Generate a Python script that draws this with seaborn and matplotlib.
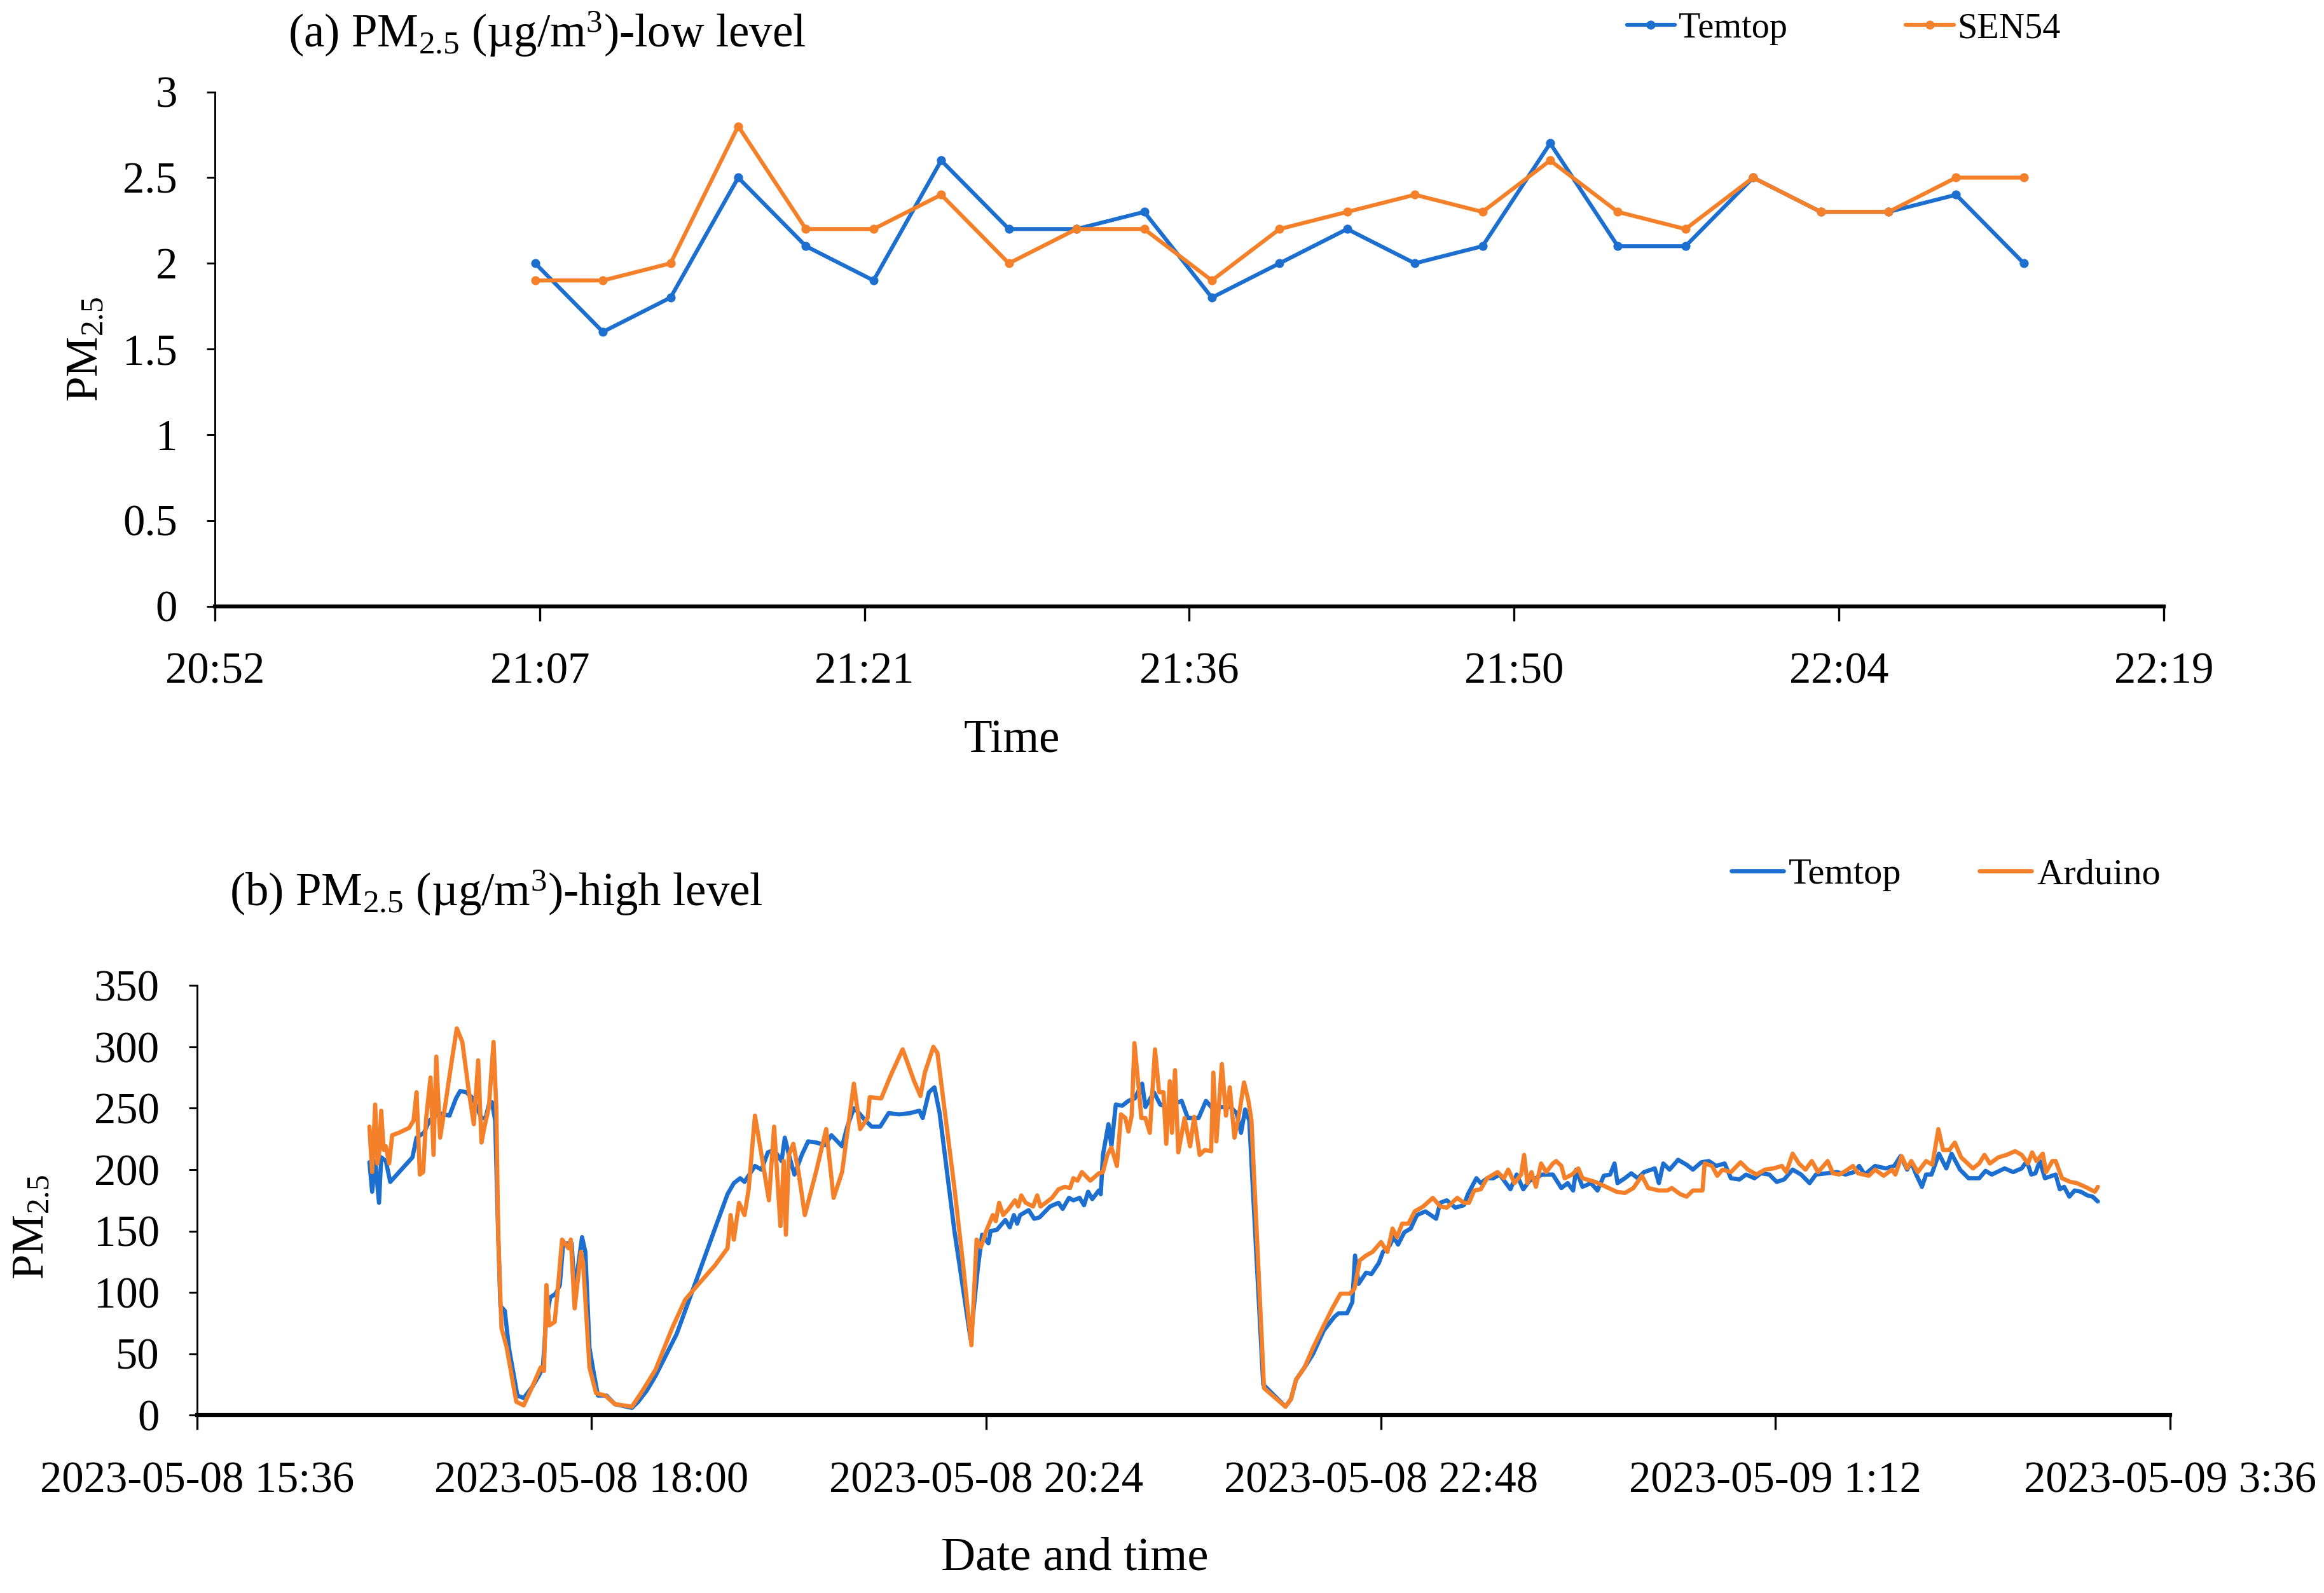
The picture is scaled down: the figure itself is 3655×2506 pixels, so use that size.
import matplotlib
matplotlib.use("Agg")
import matplotlib.pyplot as plt
import matplotlib.dates as mdates
from matplotlib.ticker import FuncFormatter
import seaborn as sns
import pandas as pd
from datetime import timedelta

# ---------------- (a) low level data ----------------
low_times = ["21:07", "21:10", "21:13", "21:16", "21:19", "21:22", "21:25", "21:28",
             "21:31", "21:34", "21:37", "21:40", "21:43", "21:46", "21:49", "21:52",
             "21:55", "21:58", "22:01", "22:04", "22:07", "22:10", "22:13"]
low_temtop = [2.0, 1.6, 1.8, 2.5, 2.1, 1.9, 2.6, 2.2, 2.2, 2.3, 1.8, 2.0,
              2.2, 2.0, 2.1, 2.7, 2.1, 2.1, 2.5, 2.3, 2.3, 2.4, 2.0]
low_sen54 = [1.9, 1.9, 2.0, 2.8, 2.2, 2.2, 2.4, 2.0, 2.2, 2.2, 1.9, 2.2,
             2.3, 2.4, 2.3, 2.6, 2.3, 2.2, 2.5, 2.3, 2.3, 2.5, 2.5]
low_xticks = ["20:52:48", "21:07:12", "21:21:36", "21:36:00", "21:50:24", "22:04:48", "22:19:12"]

# ---------------- (b) high level data (minutes after 2023-05-08 15:36) ----------------
hi_temtop_min = [
    62.9, 63.9, 65.0, 66.4, 67.2, 68.9, 70.5, 78.6, 80.1, 82.8, 84.8, 88.3, 92.1, 94.5, 96.0,
    98.3, 100.7, 103.8, 105.3, 106.5, 107.6, 108.8, 109.9, 110.7, 112.3, 113.8, 116.9, 119.2,
    122.3, 124.7, 126.2, 127.4, 128.9, 130.9, 132.4, 133.6, 135.5, 136.7, 137.8, 140.5, 141.7,
    143.2, 144.8, 146.3, 149.4, 152.5, 158.7, 161.0, 164.1, 167.3,
    175.0, 182.7, 189.0, 193.6, 195.9, 198.2, 199.8, 203.6, 206.0, 208.3, 210.6, 213.3, 214.5,
    216.0, 218.0, 220.7, 223.0, 226.1, 229.2, 231.5, 235.4, 237.3, 239.7, 241.6, 243.9, 246.2,
    249.3, 252.4, 256.3, 260.2, 263.6, 264.8, 267.1, 269.1, 271.0, 276.4,
    282.3, 284.9, 286.5, 288.8, 289.6, 291.9, 295.0, 296.6, 298.1, 299.3, 300.4, 303.5, 305.5,
    307.4, 311.3, 314.4, 315.9, 318.2, 319.8, 322.1, 323.7, 325.2, 326.7, 329.1, 329.8, 330.6,
    332.6, 333.7, 335.3, 337.6, 339.9, 342.2, 344.9, 346.1, 349.2, 351.5, 353.8, 356.2, 359.3,
    361.6, 365.5, 368.2, 370.9, 374.0, 377.1, 379.4, 381.0, 382.5, 384.0, 389.1,
    397.2, 399.2, 401.1, 404.2, 407.3, 411.2, 415.0, 416.6, 419.7, 421.6, 422.6, 423.9, 426.6,
    428.6, 431.3, 432.8, 435.2, 436.7, 438.3, 440.6, 442.9, 445.2, 448.3, 452.2, 453.7, 456.1,
    459.2, 462.3, 463.8, 466.9, 468.5, 470.8, 473.1, 475.4, 479.3, 481.6, 484.0, 486.3, 488.6,
    490.9, 494.8,
    497.9, 500.2, 502.2, 503.3, 505.6, 508.7, 511.1, 513.4, 515.7, 517.3, 518.4, 521.1, 523.4,
    525.8, 528.1, 532.0, 533.5, 535.1, 537.4, 540.5, 543.6, 545.9, 549.0, 551.7, 554.4, 557.5,
    559.8, 562.9, 565.3, 568.4, 570.7, 573.8, 576.5, 579.2, 582.3, 585.4, 588.5, 590.8, 594.7,
    598.6, 601.6,
    604.7, 606.6, 608.6, 612.4, 616.3, 619.4, 621.7, 624.1, 625.6, 627.2, 629.5, 631.0, 633.0,
    635.7, 638.4, 640.3, 643.4, 646.5, 650.4, 652.7, 655.0, 659.7, 662.8, 665.9, 667.8, 669.4,
    670.9, 672.5, 674.4, 678.3, 679.8, 681.4, 683.3, 685.2, 687.5, 689.9, 691.8, 693.7]
hi_temtop_val = [
    206, 182, 207, 173, 210, 207, 190, 210, 226, 230, 240, 246, 244, 258, 264,
    263, 258, 242, 242, 253, 255, 240, 147, 89, 85, 55, 16, 14,
    23, 32, 39, 78, 96, 99, 106, 140, 140, 140, 101, 145, 133,
    55, 34, 16, 16, 9, 6, 11, 20, 32,
    66, 113, 152, 180, 189, 193, 190, 203, 200, 214, 216, 207, 226,
    212, 196, 212, 223, 222, 220, 228, 219, 235, 250, 246, 240, 235,
    235, 246, 245, 246, 248, 242, 263, 267, 246, 150,
    62, 119, 147, 140, 150, 151, 159, 153, 163, 156, 163, 167, 160,
    161, 170, 173, 168, 177, 175, 177, 171, 182, 176, 183, 180, 212,
    237, 219, 253, 252, 256, 258, 270, 251, 263, 253, 251, 253, 256,
    242, 242, 256, 249, 251, 251, 246, 230, 249, 240, 25,
    7, 13, 29, 39, 50, 69, 80, 83, 83, 92, 130, 107, 116,
    115, 124, 133, 138, 145, 139, 149, 152, 163, 166, 160, 173, 175,
    169, 171, 180, 193, 189, 193, 193, 196, 184, 196, 184, 191, 193,
    196, 196,
    185, 189, 183, 200, 186, 189, 183, 195, 196, 205, 189, 193, 197,
    193, 198, 201, 189, 205, 200, 208, 204, 200, 206, 207, 203, 205,
    193, 192, 196, 193, 197, 196, 190, 192, 200, 196, 189, 196, 197,
    198, 196,
    198, 203, 196, 203, 201, 203, 211, 200, 206, 197, 186, 196, 196,
    213, 201, 213, 200, 193, 193, 199, 196, 201, 198, 201, 207, 196,
    197, 207, 193, 196, 184, 186, 178, 183, 182, 179, 178, 174]

hi_arduino_min = [
    62.9, 63.9, 65.0, 65.8, 66.4, 67.2, 68.1, 68.9, 70.1, 71.2, 73.6, 77.4, 79.0, 80.1, 81.3,
    82.5, 83.6, 85.2, 86.3, 87.3, 88.7, 90.6, 92.9, 94.8, 96.8, 99.1, 101.0, 102.6, 103.8,
    104.9, 106.5, 108.2, 109.2, 109.9, 111.1, 113.0, 116.5, 119.2, 122.3, 125.4, 126.6, 127.5,
    128.5, 130.5, 131.6, 133.2, 134.3, 135.5, 136.4, 137.8, 140.1, 140.9, 143.2, 145.6, 149.0,
    152.5, 158.7, 162.6, 167.3,
    173.4, 178.1, 182.7, 189.0, 193.6, 194.7, 195.9, 197.8, 199.8, 201.3, 203.6, 206.0, 208.7,
    210.6, 212.9, 214.1, 214.9, 216.0, 217.6, 219.5, 221.8, 226.1, 229.6, 232.3, 235.4, 239.7,
    242.0, 244.7, 245.5, 249.7, 253.2, 257.5, 261.7, 264.0, 265.6, 268.7, 270.2, 276.4,
    279.5, 282.6, 284.5, 286.1, 288.0, 290.4, 291.5, 292.7, 294.2, 296.2, 298.5, 299.7, 300.8,
    302.4, 305.1, 306.6, 307.8, 309.7, 312.0, 314.4, 316.7, 318.6, 319.8, 321.3, 322.9, 326.0,
    329.1, 330.6, 332.2, 333.7, 335.7, 337.2, 338.8, 339.9, 341.1, 342.1, 343.8, 344.6, 346.1,
    347.7, 349.6, 351.1, 352.7, 353.7, 355.0, 355.8, 356.9, 358.1, 360.4, 362.4, 363.9, 365.9,
    367.8, 370.1, 370.9, 372.0, 374.0, 375.5, 376.9, 378.6, 380.2, 382.1, 383.7, 384.8, 389.4,
    397.2, 399.2, 401.1, 404.2, 407.3, 411.2, 414.3, 417.3, 420.8, 422.4, 424.3, 426.6, 429.0,
    432.1, 434.4, 436.3, 437.9, 439.8, 442.1, 444.4, 447.5, 451.0, 453.7, 456.1, 459.9, 462.3,
    464.2, 466.1, 468.5, 470.8, 474.6, 476.9, 478.5, 480.8, 483.2, 484.3, 485.5, 487.0, 488.6,
    490.5, 492.4, 494.8,
    496.0, 497.9, 499.1, 501.8, 504.1, 505.6, 510.3, 514.2, 518.0, 521.1, 524.2, 527.3, 529.6,
    533.5, 536.6, 538.2, 541.3, 543.6, 545.9, 549.4, 550.2, 552.9, 554.8, 556.7, 559.8, 563.3,
    566.0, 569.1, 572.2, 575.3, 578.4, 580.0, 582.3, 584.6, 587.0, 589.3, 591.6, 595.1, 597.0,
    599.3, 601.7,
    604.3, 606.2, 610.1, 612.4, 615.5, 618.6, 619.8, 622.1, 624.1, 625.6, 628.0, 631.0, 633.3,
    635.5, 637.2, 639.5, 641.5, 643.8, 648.1, 650.4, 652.3, 654.3, 657.4, 660.4, 663.5, 665.9,
    668.2, 669.7, 671.3, 673.6, 674.8, 677.1, 678.3, 680.6, 683.7, 686.0, 689.1, 692.6, 693.7]
hi_arduino_val = [
    235, 198, 253, 205, 212, 248, 216, 219, 205, 228, 230, 234, 240, 263, 196,
    198, 242, 275, 212, 292, 226, 253, 288, 315, 304, 265, 237, 289, 222,
    235, 251, 304, 251, 147, 71, 55, 11, 8, 23, 39, 36, 106,
    73, 76, 101, 143, 140, 136, 143, 87, 133, 124, 39, 18, 16,
    9, 7, 20, 37,
    71, 94, 106, 122, 136, 163, 143, 173, 163, 184, 244, 212, 175,
    235, 154, 207, 147, 212, 221, 198, 163, 200, 233, 177, 198, 270,
    233, 242, 259, 258, 277, 298, 272, 260, 279, 300, 295, 185,
    124, 57, 143, 137, 150, 163, 158, 173, 163, 168, 175, 170, 179,
    173, 170, 179, 170, 173, 177, 184, 186, 185, 193, 191, 198, 191,
    197, 198, 212, 218, 203, 245, 242, 231, 244, 303, 263, 242, 242,
    230, 298, 263, 263, 221, 272, 230, 281, 214, 242, 219, 243, 212,
    216, 215, 279, 223, 286, 244, 267, 226, 244, 271, 256, 240, 22,
    7, 13, 29, 39, 55, 73, 87, 99, 99, 103, 126, 130, 133,
    141, 133, 152, 145, 156, 156, 166, 170, 177, 170, 169, 177, 173,
    173, 183, 184, 193, 198, 193, 200, 189, 196, 212, 189, 198, 186,
    205, 198, 205,
    207, 203, 193, 196, 201, 193, 190, 186, 182, 181, 185, 195, 185,
    183, 183, 185, 180, 178, 183, 183, 205, 203, 195, 200, 198, 206,
    200, 196, 200, 201, 203, 198, 213, 205, 200, 207, 198, 207, 197,
    196, 199,
    203, 197, 195, 200, 195, 200, 196, 211, 201, 207, 198, 207, 204,
    233, 216, 216, 222, 210, 201, 205, 212, 205, 210, 212, 215, 212,
    205, 214, 207, 213, 198, 207, 207, 193, 190, 189, 186, 182, 186]
hi_start = "2023-05-08 15:36"
hi_xticks = ["2023-05-08 15:36", "2023-05-08 18:00", "2023-05-08 20:24",
             "2023-05-08 22:48", "2023-05-09 01:12", "2023-05-09 03:36"]

BLUE = "#1c6fcf"
ORANGE = "#f5802a"

# ---------------- style ----------------
sns.set_theme(style="ticks")
plt.rcParams["font.family"] = ["Liberation Serif", "DejaVu Serif"]
plt.rcParams["mathtext.fontset"] = "custom"
plt.rcParams["mathtext.rm"] = "Liberation Serif"
plt.rcParams["mathtext.it"] = "Liberation Serif:italic"
plt.rcParams["mathtext.bf"] = "Liberation Serif:bold"
plt.rcParams["text.color"] = "black"
plt.rcParams["axes.labelcolor"] = "black"

fig = plt.figure(figsize=(3655 / 300, 2506 / 300), dpi=300)
fig.patch.set_facecolor("white")
ax1 = fig.add_axes([0.0925, 0.6195, 0.8385, 0.3228])
ax2 = fig.add_axes([0.0848, 0.1116, 0.8489, 0.2698])

# ---------------- (a) ----------------
low_dt = pd.to_datetime(["2023-05-08 " + t for t in low_times])
df_low = pd.DataFrame({
    "time": list(low_dt) * 2,
    "value": low_temtop + low_sen54,
    "sensor": ["Temtop"] * len(low_temtop) + ["SEN54"] * len(low_sen54),
})
sns.lineplot(data=df_low, x="time", y="value", hue="sensor", hue_order=["Temtop", "SEN54"],
             palette={"Temtop": BLUE, "SEN54": ORANGE}, estimator=None, marker="o",
             markersize=3.4, markeredgewidth=0, linewidth=1.5, legend=False, ax=ax1)

# ---------------- (b) ----------------
base = pd.Timestamp(hi_start)
t_tem = base + pd.to_timedelta(hi_temtop_min, unit="min")
t_ard = base + pd.to_timedelta(hi_arduino_min, unit="min")
df_hi = pd.DataFrame({
    "time": list(t_tem) + list(t_ard),
    "value": hi_temtop_val + hi_arduino_val,
    "sensor": ["Temtop"] * len(hi_temtop_val) + ["Arduino"] * len(hi_arduino_val),
})
sns.lineplot(data=df_hi, x="time", y="value", hue="sensor", hue_order=["Temtop", "Arduino"],
             palette={"Temtop": BLUE, "Arduino": ORANGE}, estimator=None, sort=True,
             linewidth=1.6, legend=False, ax=ax2)


def fmt_low(x, pos):
    d = mdates.num2date(x)
    d = (d + timedelta(milliseconds=500)).replace(microsecond=0)
    return d.strftime("%H:%M")


def fmt_hi(x, pos):
    d = mdates.num2date(x)
    d = (d + timedelta(milliseconds=500)).replace(microsecond=0)
    return f"{d:%Y-%m-%d} {d.hour}:{d:%M}"


low_tick_dt = pd.to_datetime(["2023-05-08 " + t for t in low_xticks])
hi_tick_dt = pd.to_datetime(hi_xticks)

for ax, ticks, fmt, ylim, ystep in [
    (ax1, low_tick_dt, fmt_low, 3.0, 0.5),
    (ax2, hi_tick_dt, fmt_hi, 350, 50),
]:
    ax.set_facecolor("white")
    ax.set_xlim(ticks[0], ticks[-1])
    ax.set_xticks(list(ticks))
    ax.xaxis.set_major_formatter(FuncFormatter(fmt))
    ax.set_ylim(0, ylim)
    yt = [i * ystep for i in range(int(round(ylim / ystep)) + 1)]
    ax.set_yticks(yt)
    ax.set_yticklabels([f"{v:g}" for v in yt])
    for s in ["top", "right"]:
        ax.spines[s].set_visible(False)
    ax.spines["left"].set_linewidth(0.7)
    ax.spines["left"].set_color("black")
    ax.spines["bottom"].set_linewidth(1.5)
    ax.spines["bottom"].set_color("black")
    ax.tick_params(axis="x", direction="out", length=5.5, width=0.8, pad=12,
                   labelsize=16.5, colors="black")
    ax.tick_params(axis="y", direction="out", length=3.2, width=0.7, pad=11,
                   labelsize=16.5, colors="black")
    ax.grid(False)

# axis labels
ax1.set_xlabel("Time", fontsize=17.5, va="center")
ax1.xaxis.set_label_coords(0.409, -0.262)
ax1.set_ylabel(r"PM$_{\mathrm{2.5}}$", fontsize=17, va="center")
ax1.yaxis.set_label_coords(-0.066, 0.5)

ax2.set_xlabel("Date and time", fontsize=18, va="center")
ax2.xaxis.set_label_coords(0.4448, -0.334)
ax2.set_ylabel(r"PM$_{\mathrm{2.5}}$", fontsize=17, va="center")
ax2.yaxis.set_label_coords(-0.0834, 0.438)

# titles
fig.text(0.124, 0.979, r"(a) PM$_{\mathrm{2.5}}$ (µg/m$^{\mathrm{3}}$)-low level",
         fontsize=17.5, ha="left", va="center")
fig.text(0.0989, 0.44, r"(b) PM$_{\mathrm{2.5}}$ (µg/m$^{\mathrm{3}}$)-high level",
         fontsize=17.5, ha="left", va="center")

# legends
ax1.legend(handles=ax1.lines[:2], labels=["Temtop", "SEN54"], loc="center left",
           bbox_to_anchor=(0.700, 0.982), bbox_transform=fig.transFigure, ncol=2,
           frameon=False, fontsize=13.5, handlelength=1.35, handletextpad=0.1,
           columnspacing=3.3, borderpad=0, borderaxespad=0, numpoints=1)
ax2.legend(handles=ax2.lines[:2], labels=["Temtop", "Arduino"], loc="center left",
           bbox_to_anchor=(0.745, 0.451), bbox_transform=fig.transFigure, ncol=2,
           frameon=False, fontsize=14, handlelength=1.4, handletextpad=0.15,
           columnspacing=2.1, borderpad=0, borderaxespad=0)

fig.savefig("out.png", dpi=300, facecolor="white")
